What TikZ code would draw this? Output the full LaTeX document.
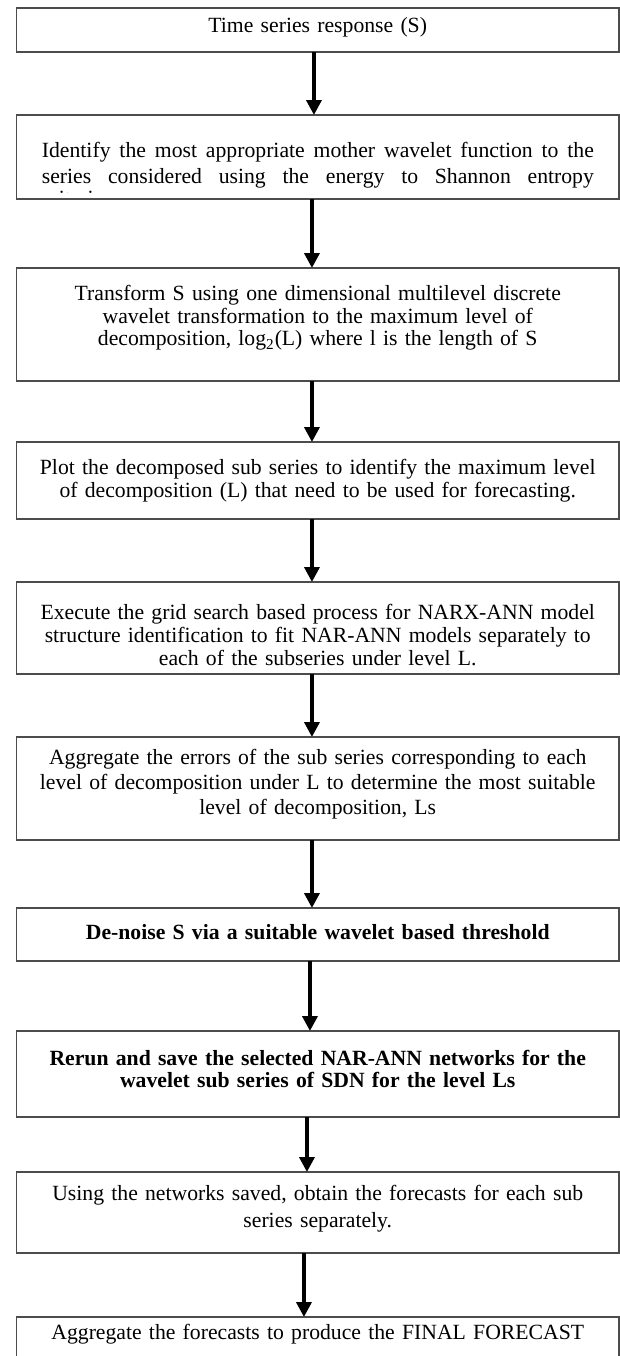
\documentclass[tikz,border=0pt]{standalone}
\usepackage{fontspec}
\setmainfont{Liberation Serif}
\usetikzlibrary{positioning,arrows.meta}

\begin{document}
\begin{tikzpicture}[-,auto,node distance=31.5pt,
        box node/.style={rectangle,draw=black!70,line width=0.8pt,outer sep=0pt,
            minimum width=301.25pt},
        box text/.style={text width=290pt,align=center,
            font=\fontsize{10.85}{11.3}\selectfont},
        flow/.style={draw,line width=1.8pt,-{Triangle[length=7.5pt,width=7.5pt]}}]
        \useasboundingbox (0,0) rectangle (310pt,-678pt);
        \node[box node,minimum height=22pt,
            label={[box text,yshift=1.5pt]center:{Time series response (S)}}] (1) at (158.875pt,-15pt) {};
        \node[box node,minimum height=42pt] (2) [below=of 1] {};
        % the text runs past the bottom of its box, only the top of the last line shows
        \begin{scope}
            \clip (2.north west) rectangle ([yshift=3.1pt]2.south east);
            \node[box text,text width=276pt,inner sep=0pt,align=justify,anchor=north west,
                font=\fontsize{10.85}{13}\selectfont]
                (2t) at ([xshift=12.5pt,yshift=-13.5pt]2.north west)
                {\tolerance=10000\relax\hyphenpenalty=10000\relax
                Identify the most appropriate mother wavelet function to the\linebreak
                series considered using the energy to Shannon entropy\vadjust{\vskip-2pt}\linebreak
                criterion.};
        \end{scope}
        \node[box node,minimum height=56.5pt,
            label={[box text,yshift=3.25pt]center:{Transform S using one dimensional multilevel discrete\\
            wavelet transformation to the maximum level of\\
            decomposition, log\textsubscript{2}(L) where l is the length of S}}] (3) [below=34.5pt of 2] {};
        \node[box node,minimum height=38.5pt,
            label={[box text]center:{Plot the decomposed sub series to identify the maximum level\\
            of decomposition (L) that need to be used for forecasting.}}] (4) [below=30.5pt of 3] {};
        \node[box node,minimum height=46pt,
            label={[box text,yshift=-3.5pt]center:{Execute the grid search based process for NARX-ANN model\\
            structure identification to fit NAR-ANN models separately to\\
            each of the subseries under level L.}}] (5) [below=of 4] {};
        \node[box node,minimum height=51.5pt,
            label={[box text,yshift=2pt,font=\fontsize{10.85}{12.5}\selectfont]center:{Aggregate the errors of the sub series corresponding to each\\
            level of decomposition under L to determine the most suitable\\
            level of decomposition, Ls}}] (6) [below=of 5] {};
        \node[box node,minimum height=26.5pt,
            label={[box text,yshift=1pt,font=\fontsize{10.85}{11.3}\selectfont\bfseries]center:{De-noise S via a suitable wavelet based threshold}}] (7) [below=34pt of 6] {};
        \node[box node,minimum height=43pt,
            label={[box text,yshift=2.5pt,font=\fontsize{10.85}{11.3}\selectfont\bfseries]center:{Rerun and save the selected NAR-ANN networks for the\\
            wavelet sub series of SDN for the level Ls}}] (8) [below=35pt of 7] {};
        \node[box node,minimum height=40.5pt,
            label={[box text,yshift=1.75pt,font=\fontsize{10.85}{13.5}\selectfont]center:{Using the networks saved, obtain the forecasts for each sub\\
            series separately.}}] (9) [below=27.5pt of 8] {};
        \node[box node,minimum height=22pt,
            label={[box text,yshift=2.5pt]center:{Aggregate the forecasts to produce the FINAL FORECAST}}] (10) [below=32pt of 9] {};
        \path
            ([xshift=-1.9pt]1.south) edge[flow] ([xshift=-1.9pt]2.north)
            ([xshift=-2.9pt]2.south) edge[flow] ([xshift=-2.9pt]3.north)
            ([xshift=-2.9pt]3.south) edge[flow] ([xshift=-2.9pt]4.north)
            ([xshift=-2.9pt]4.south) edge[flow] ([xshift=-2.9pt]5.north)
            ([xshift=-2.9pt]5.south) edge[flow] ([xshift=-2.9pt]6.north)
            ([xshift=-2.9pt]6.south) edge[flow] ([xshift=-2.9pt]7.north)
            ([xshift=-3.9pt]7.south) edge[flow] ([xshift=-3.9pt]8.north)
            ([xshift=-5.4pt]8.south) edge[flow] ([xshift=-5.4pt]9.north)
            ([xshift=-6.9pt]9.south) edge[flow] ([xshift=-6.9pt]10.north);
    \end{tikzpicture}
\end{document}
